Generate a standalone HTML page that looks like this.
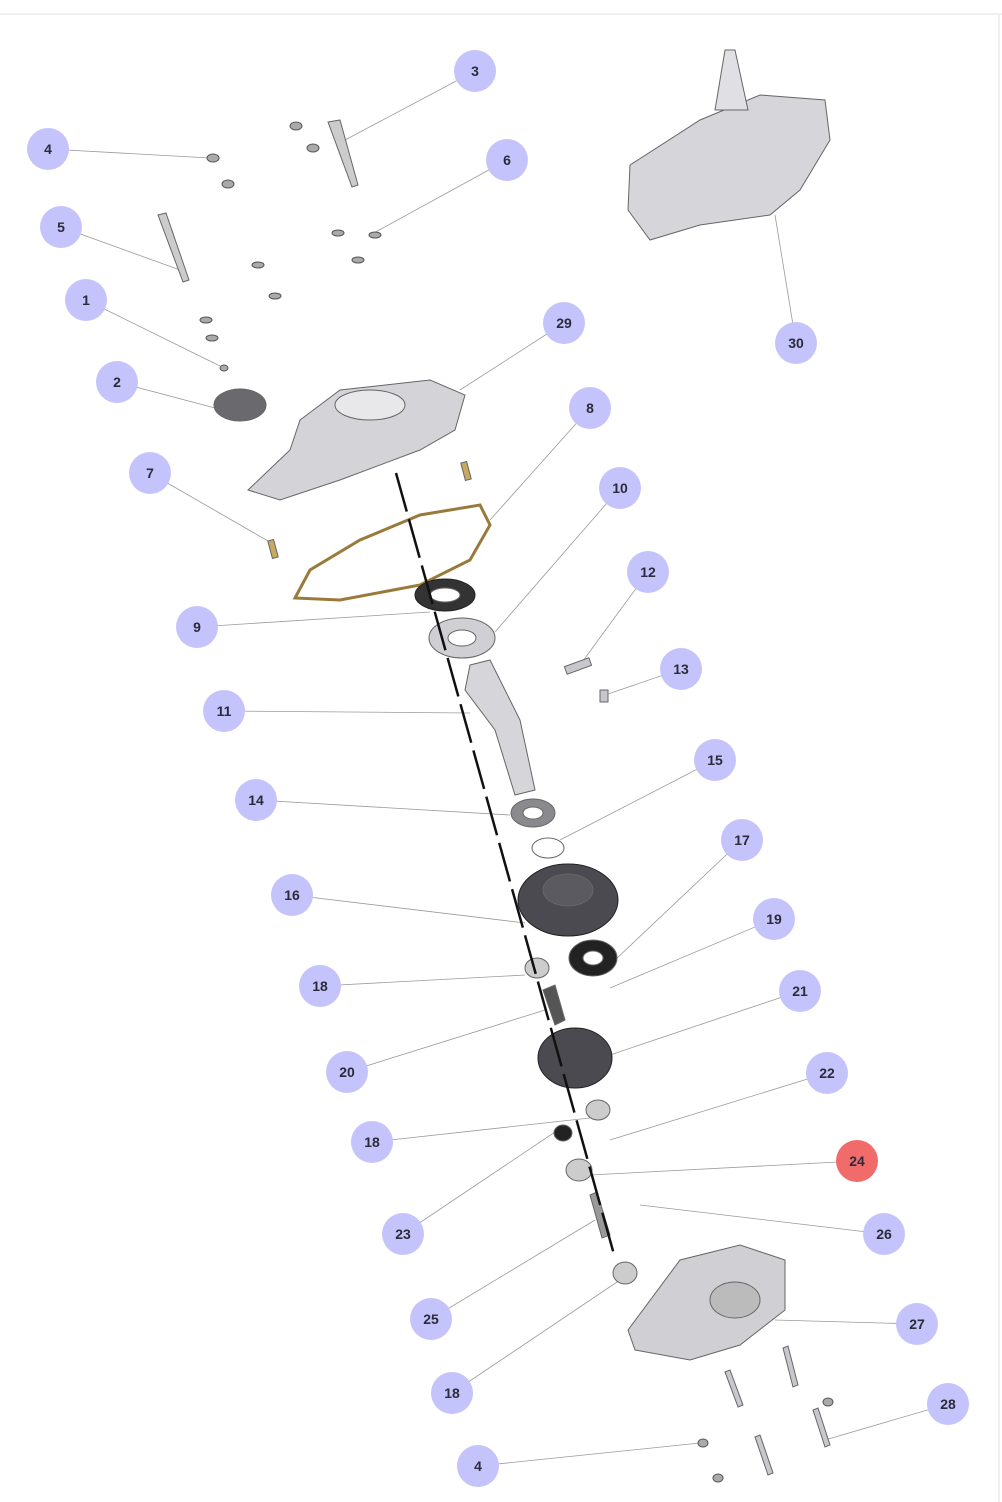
<!DOCTYPE html>
<html><head><meta charset="utf-8"><style>
html,body{margin:0;padding:0;background:#fff;}
svg{display:block;}
text{font-family:"Liberation Sans",sans-serif;font-weight:bold;font-size:14px;fill:#2b2b3a;text-anchor:middle;dominant-baseline:central;}
</style></head><body>
<svg width="1002" height="1502" viewBox="0 0 1002 1502" xmlns="http://www.w3.org/2000/svg">
<rect width="1002" height="1502" fill="#fff"/>
<line x1="0" y1="14" x2="1002" y2="14" stroke="#ececec" stroke-width="1.5"/>
<line x1="999" y1="14" x2="999" y2="1502" stroke="#f0f0f0" stroke-width="2"/>
<g stroke="#9a9a9a" stroke-width="0.8" fill="none">
<line x1="475" y1="71" x2="345" y2="140"/>
<line x1="48" y1="149" x2="210" y2="158"/>
<line x1="507" y1="160" x2="372" y2="234"/>
<line x1="61" y1="227" x2="180" y2="270"/>
<line x1="86" y1="300" x2="220" y2="366"/>
<line x1="564" y1="323" x2="460" y2="390"/>
<line x1="796" y1="343" x2="775" y2="215"/>
<line x1="117" y1="382" x2="215" y2="408"/>
<line x1="590" y1="408" x2="490" y2="520"/>
<line x1="150" y1="473" x2="275" y2="545"/>
<line x1="620" y1="488" x2="495" y2="632"/>
<line x1="648" y1="572" x2="580" y2="665"/>
<line x1="197" y1="627" x2="430" y2="612"/>
<line x1="681" y1="669" x2="605" y2="695"/>
<line x1="224" y1="711" x2="470" y2="713"/>
<line x1="715" y1="760" x2="560" y2="840"/>
<line x1="256" y1="800" x2="510" y2="815"/>
<line x1="742" y1="840" x2="615" y2="960"/>
<line x1="292" y1="895" x2="525" y2="923"/>
<line x1="774" y1="919" x2="610" y2="988"/>
<line x1="320" y1="986" x2="525" y2="975"/>
<line x1="800" y1="991" x2="610" y2="1055"/>
<line x1="347" y1="1072" x2="545" y2="1010"/>
<line x1="827" y1="1073" x2="610" y2="1140"/>
<line x1="372" y1="1142" x2="590" y2="1118"/>
<line x1="857" y1="1161" x2="590" y2="1175"/>
<line x1="403" y1="1234" x2="558" y2="1130"/>
<line x1="884" y1="1234" x2="640" y2="1205"/>
<line x1="431" y1="1319" x2="595" y2="1220"/>
<line x1="917" y1="1324" x2="775" y2="1320"/>
<line x1="452" y1="1393" x2="620" y2="1280"/>
<line x1="948" y1="1404" x2="825" y2="1440"/>
<line x1="478" y1="1466" x2="700" y2="1443"/>
</g>
<!-- parts -->
<g fill="#c8c8cc" stroke="#666" stroke-width="1">
<!-- gearbox top right -->
<path d="M630,165 L700,120 L760,95 L825,100 L830,140 L800,190 L770,215 L700,225 L650,240 L628,210 Z" fill="#d6d6da"/>
<path d="M715,110 L725,50 L735,50 L748,110 Z" fill="#e0e0e4"/>
<!-- top cover 29 -->
<path d="M248,490 L290,450 L300,420 L340,390 L430,380 L465,395 L455,430 L420,450 L340,480 L280,500 Z" fill="#d4d4d8"/>
<ellipse cx="370" cy="405" rx="35" ry="15" fill="#e8e8ea"/>
<!-- item 2 -->
<ellipse cx="240" cy="405" rx="26" ry="16" fill="#6a6a6e"/>
<!-- gasket 8 -->
<path d="M295,598 L310,570 L360,540 L420,515 L480,505 L490,525 L470,560 L420,585 L340,600 Z" fill="none" stroke="#9a7a3a" stroke-width="3"/>
<!-- seal 9 -->
<ellipse cx="445" cy="595" rx="30" ry="16" fill="#333" stroke="#222"/>
<ellipse cx="445" cy="595" rx="15" ry="7" fill="#fff"/>
<!-- bearing 10 -->
<ellipse cx="462" cy="638" rx="33" ry="20" fill="#d0d0d4"/>
<ellipse cx="462" cy="638" rx="14" ry="8" fill="#fff"/>
<!-- shaft 11 -->
<path d="M470,665 L490,660 L520,720 L535,790 L515,795 L495,730 L465,690 Z" fill="#d6d6da"/>
<!-- 14 -->
<ellipse cx="533" cy="813" rx="22" ry="14" fill="#8a8a8e"/>
<ellipse cx="533" cy="813" rx="10" ry="6" fill="#fff"/>
<ellipse cx="548" cy="848" rx="16" ry="10" fill="none"/>
<!-- 16 big gear -->
<ellipse cx="568" cy="900" rx="50" ry="36" fill="#4a4a50" stroke="#222"/>
<ellipse cx="568" cy="890" rx="25" ry="16" fill="#5a5a60"/>
<!-- 17 seal -->
<ellipse cx="593" cy="958" rx="24" ry="18" fill="#222"/>
<ellipse cx="593" cy="958" rx="10" ry="7" fill="#fff"/>
<!-- 18 bearing -->
<ellipse cx="537" cy="968" rx="12" ry="10" fill="#ccc"/>
<path d="M543,990 L555,985 L565,1020 L555,1025 Z" fill="#555"/>
<!-- 21 gear -->
<ellipse cx="575" cy="1058" rx="37" ry="30" fill="#4a4a50" stroke="#222"/>
<ellipse cx="598" cy="1110" rx="12" ry="10" fill="#ccc"/>
<ellipse cx="563" cy="1133" rx="9" ry="8" fill="#222"/>
<ellipse cx="579" cy="1170" rx="13" ry="11" fill="#ccc"/>
<path d="M590,1195 L597,1192 L610,1235 L602,1238 Z" fill="#999"/>
<ellipse cx="625" cy="1273" rx="12" ry="11" fill="#ccc"/>
<!-- bottom cover 27 -->
<path d="M628,1330 L680,1260 L740,1245 L785,1260 L785,1310 L740,1345 L690,1360 L635,1350 Z" fill="#d0d0d4"/>
<ellipse cx="735" cy="1300" rx="25" ry="18" fill="#bbb"/>
<!-- screws -->
<path d="M328,122 L340,120 L358,185 L352,187 Z" fill="#ccc"/>
<path d="M158,215 L166,213 L189,280 L183,282 Z" fill="#ccc"/>
<path d="M725,1372 L730,1370 L743,1405 L738,1407 Z"/>
<path d="M783,1348 L788,1346 L798,1385 L793,1387 Z"/>
<path d="M813,1410 L818,1408 L830,1445 L825,1447 Z"/>
<path d="M755,1437 L760,1435 L773,1473 L768,1475 Z"/>
<rect x="565" y="662" width="26" height="8" transform="rotate(-20 578 666)"/>
<rect x="600" y="690" width="8" height="12"/>
<rect x="270" y="540" width="6" height="18" fill="#c9a860" transform="rotate(-15 273 549)"/>
<rect x="463" y="462" width="6" height="18" fill="#c9a860" transform="rotate(-15 466 471)"/>
</g>
<g fill="#aaa" stroke="#555" stroke-width="1">
<ellipse cx="213" cy="158" rx="6" ry="4"/><ellipse cx="228" cy="184" rx="6" ry="4"/>
<ellipse cx="296" cy="126" rx="6" ry="4"/><ellipse cx="313" cy="148" rx="6" ry="4"/>
<ellipse cx="338" cy="233" rx="6" ry="3"/><ellipse cx="375" cy="235" rx="6" ry="3"/>
<ellipse cx="258" cy="265" rx="6" ry="3"/><ellipse cx="358" cy="260" rx="6" ry="3"/>
<ellipse cx="275" cy="296" rx="6" ry="3"/><ellipse cx="206" cy="320" rx="6" ry="3"/>
<ellipse cx="212" cy="338" rx="6" ry="3"/><ellipse cx="224" cy="368" rx="4" ry="3"/>
<ellipse cx="703" cy="1443" rx="5" ry="4"/><ellipse cx="718" cy="1478" rx="5" ry="4"/>
<ellipse cx="828" cy="1402" rx="5" ry="4"/>
</g>
<g stroke="#111" stroke-width="2.5" stroke-dasharray="40,8">
<line x1="396" y1="473" x2="615" y2="1258"/>
</g>
<!-- labels -->
<g fill="#c5c3fb">
<circle cx="475" cy="71" r="21"/><circle cx="48" cy="149" r="21"/><circle cx="507" cy="160" r="21"/>
<circle cx="61" cy="227" r="21"/><circle cx="86" cy="300" r="21"/><circle cx="564" cy="323" r="21"/>
<circle cx="796" cy="343" r="21"/><circle cx="117" cy="382" r="21"/><circle cx="590" cy="408" r="21"/>
<circle cx="150" cy="473" r="21"/><circle cx="620" cy="488" r="21"/><circle cx="648" cy="572" r="21"/>
<circle cx="197" cy="627" r="21"/><circle cx="681" cy="669" r="21"/><circle cx="224" cy="711" r="21"/>
<circle cx="715" cy="760" r="21"/><circle cx="256" cy="800" r="21"/><circle cx="742" cy="840" r="21"/>
<circle cx="292" cy="895" r="21"/><circle cx="774" cy="919" r="21"/><circle cx="320" cy="986" r="21"/>
<circle cx="800" cy="991" r="21"/><circle cx="347" cy="1072" r="21"/><circle cx="827" cy="1073" r="21"/>
<circle cx="372" cy="1142" r="21"/><circle cx="857" cy="1161" r="21" fill="#f26b6b"/>
<circle cx="403" cy="1234" r="21"/><circle cx="884" cy="1234" r="21"/><circle cx="431" cy="1319" r="21"/>
<circle cx="917" cy="1324" r="21"/><circle cx="452" cy="1393" r="21"/><circle cx="948" cy="1404" r="21"/>
<circle cx="478" cy="1466" r="21"/>
</g>
<text x="475" y="71">3</text><text x="48" y="149">4</text><text x="507" y="160">6</text>
<text x="61" y="227">5</text><text x="86" y="300">1</text><text x="564" y="323">29</text>
<text x="796" y="343">30</text><text x="117" y="382">2</text><text x="590" y="408">8</text>
<text x="150" y="473">7</text><text x="620" y="488">10</text><text x="648" y="572">12</text>
<text x="197" y="627">9</text><text x="681" y="669">13</text><text x="224" y="711">11</text>
<text x="715" y="760">15</text><text x="256" y="800">14</text><text x="742" y="840">17</text>
<text x="292" y="895">16</text><text x="774" y="919">19</text><text x="320" y="986">18</text>
<text x="800" y="991">21</text><text x="347" y="1072">20</text><text x="827" y="1073">22</text>
<text x="372" y="1142">18</text><text x="857" y="1161">24</text>
<text x="403" y="1234">23</text><text x="884" y="1234">26</text><text x="431" y="1319">25</text>
<text x="917" y="1324">27</text><text x="452" y="1393">18</text><text x="948" y="1404">28</text>
<text x="478" y="1466">4</text>
</svg>
</body></html>
